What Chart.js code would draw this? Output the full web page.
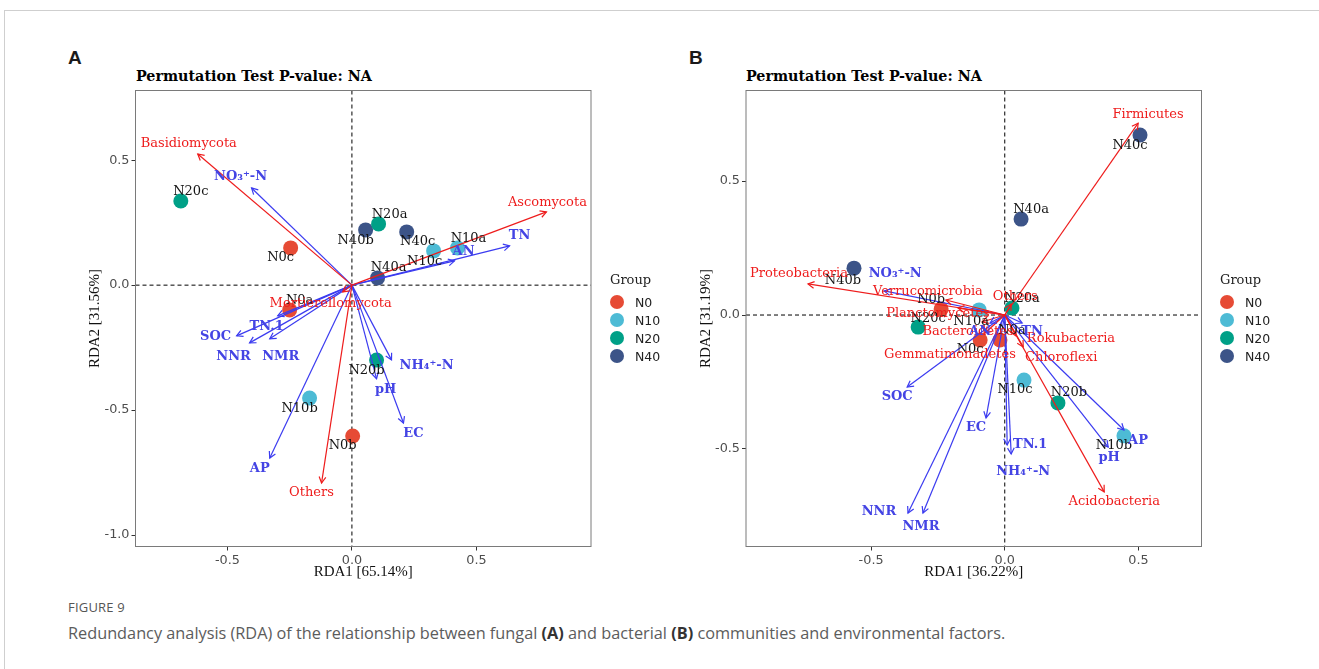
<!DOCTYPE html>
<html>
<head>
<meta charset="utf-8">
<script src="https://cdn.jsdelivr.net/npm/chart.js@4.4.1/dist/chart.umd.min.js"></script>
<style>
  html, body { margin: 0; padding: 0; background: #fff; }
  #page { position: relative; width: 1319px; height: 669px; overflow: hidden; }
  .frame { position: absolute; left: 4px; top: 10px; right: -2px; bottom: -2px;
           border-top: 1px solid #cfcfcf; border-left: 1px solid #cfcfcf; }
  .abs { position: absolute; white-space: nowrap; transform: translateY(-50%); }
  .letter { font-family: 'Liberation Sans', Arial, sans-serif; font-weight: bold; font-size: 19px; color: #1a1a1a; }
  .ptitle { font-family: 'DejaVu Serif', serif; font-weight: bold; font-size: 14.3px; color: #000; }
  .lgtitle { font-family: 'DejaVu Serif', serif; font-size: 13px; color: #222; }
  .lgitem { font-family: 'DejaVu Sans', sans-serif; font-size: 12.5px; color: #222; }
  .dot { position: absolute; width: 14px; height: 14px; border-radius: 50%; transform: translate(-50%, -50%); }
  .fig { font-family: 'Open Sans', sans-serif; font-size: 13px; color: #555; letter-spacing: 0.2px; }
  .cap { font-family: 'Open Sans', sans-serif; font-size: 16.3px; color: #5c5c5c; }
  .cap b { color: #333; }
  canvas { position: absolute; top: 0; }
</style>
</head>
<body>
<div id="page">
  <div class="frame"></div>
  <div class="abs letter" style="left:68px; top:58px;">A</div>
  <div class="abs letter" style="left:689px; top:58px;">B</div>
  <div class="abs ptitle" style="left:136px; top:76px;">Permutation Test P-value: NA</div>
  <div class="abs ptitle" style="left:746px; top:76px;">Permutation Test P-value: NA</div>
  <canvas id="chartA" width="660" height="590" style="left:0px;"></canvas>
  <canvas id="chartB" width="659" height="590" style="left:660px;"></canvas>
  <div id="legendA"></div>
  <div id="legendB"></div>
  <div class="abs fig" style="left:68px; top:607px;">FIGURE 9</div>
  <div class="abs cap" style="left:68px; top:633px;">Redundancy analysis (RDA) of the relationship between fungal <b>(A)</b> and bacterial <b>(B)</b> communities and environmental factors.</div>
</div>
<script>
// ── groups ─────────────────────────────────────────────
const groups = ['N0', 'N10', 'N20', 'N40'];
const groupColors = ['#E64B35', '#4DBBD5', '#00A087', '#3C5488'];

// ── Panel A: fungal community ──────────────────────────
const samplesA = ['N0a', 'N0b', 'N0c', 'N10a', 'N10b', 'N10c', 'N20a', 'N20b', 'N20c', 'N40a', 'N40b', 'N40c'];
const rda1A = [-0.250, 0.003, -0.246, 0.424, -0.170, 0.328, 0.107, 0.099, -0.687, 0.103, 0.055, 0.220];
const rda2A = [-0.099, -0.604, 0.149, 0.149, -0.452, 0.137, 0.245, -0.300, 0.337, 0.029, 0.221, 0.213];

const taxaA = ['Ascomycota', 'Basidiomycota', 'Mortierellomycota', 'Others'];
const taxaA1 = [0.781, -0.619, -0.037, -0.122];
const taxaA2 = [0.293, 0.525, -0.027, -0.792];

const envA = ['NO₃⁺-N', 'TN', 'AN', 'SOC', 'TN.1', 'NNR', 'NMR', 'AP', 'NH₄⁺-N', 'pH', 'EC'];
const envA1 = [-0.403, 0.633, 0.412, -0.463, -0.298, -0.411, -0.330, -0.330, 0.159, 0.099, 0.207];
const envA2 = [0.389, 0.157, 0.097, -0.203, -0.123, -0.231, -0.215, -0.692, -0.299, -0.375, -0.552];

// ── Panel B: bacterial community ───────────────────────
const samplesB = ['N0a', 'N0b', 'N0c', 'N10a', 'N10b', 'N10c', 'N20a', 'N20b', 'N20c', 'N40a', 'N40b', 'N40c'];
const rda1B = [-0.018, -0.238, -0.092, -0.096, 0.446, 0.072, 0.027, 0.199, -0.324, 0.061, -0.564, 0.506];
const rda2B = [-0.093, 0.022, -0.093, 0.019, -0.451, -0.243, 0.026, -0.328, -0.045, 0.358, 0.175, 0.672];

const taxaB = ['Firmicutes', 'Proteobacteria', 'Verrucomicrobia', 'Planctomycetes', 'Bacteroidetes',
               'Gemmatimonadetes', 'Others', 'Rokubacteria', 'Chloroflexi', 'Acidobacteria'];
const taxaB1 = [0.499, -0.736, -0.220, -0.175, -0.085, -0.074, 0.024, 0.042, 0.069, 0.372];
const taxaB2 = [0.716, 0.116, 0.056, 0.026, -0.026, -0.067, 0.041, -0.078, -0.119, -0.660];

const envB = ['NO₃⁺-N', 'SOC', 'EC', 'NNR', 'NMR', 'TN.1', 'NH₄⁺-N', 'AP', 'pH', 'TN', 'AN'];
const envB1 = [-0.451, -0.365, -0.070, -0.362, -0.306, 0.009, 0.024, 0.446, 0.387, 0.065, -0.055];
const envB2 = [0.090, -0.269, -0.384, -0.739, -0.739, -0.485, -0.519, -0.429, -0.493, -0.030, -0.030];

const axisTicks = [-1.0, -0.5, 0.0, 0.5];

// label nudges (px) – where the text sits relative to its point / arrow tip
const sampleNudgeA = [[10, -9], [-10, 10], [-10, 10], [11, -9], [-10, 11], [-9, 11], [11, -9], [-10, 11], [10, -9], [11, -10], [-10, 11], [11, 10]];
const taxaNudgeA = [[1, -9], [-9, -10], [-12, 12], [-10, 10]];
const envNudgeA = [[-11, -11], [10, -10], [9, -9], [-21, 1], [-11, 11], [-16, 14], [11, 18], [-10, 11], [35, 6], [9, 11], [10, 11]];
const sampleNudgeB = [[12, -9], [-10, -9], [-10, 10], [-8, 12], [-10, 10], [-9, 10], [10, -9], [11, -10], [10, -8], [10, -9], [-11, 12], [-10, 11]];
const taxaNudgeB = [[10, -9], [-9, -10], [-18, -8], [-20, 6], [-14, 10], [-35, 22], [4, -7], [55, 3], [38, 11], [10, 10]];
const envNudgeB = [[11, -17], [-10, 10], [-10, 10], [-29, -1], [-2, 14], [23, 0], [12, 18], [14, 11], [1, 11], [10, 9], [-10, 9]];

const RED = '#ee1c1c';
const BLUE = '#3b3bf0';
const BLUE_TXT = '#4444e4';

// ── plugin: zero lines, box, arrowheads, labels, axis titles ──
const rdaDecor = {
  id: 'rdaDecor',
  beforeDatasetsDraw(chart) {
    const { ctx, chartArea: a, scales: { x, y } } = chart;
    const x0 = x.getPixelForValue(0), y0 = y.getPixelForValue(0);
    ctx.save();
    ctx.strokeStyle = '#000';
    ctx.lineWidth = 1;
    ctx.setLineDash([4, 3]);
    ctx.beginPath();
    ctx.moveTo(x0, a.top); ctx.lineTo(x0, a.bottom);
    ctx.moveTo(a.left, y0); ctx.lineTo(a.right, y0);
    ctx.stroke();
    ctx.restore();
  },
  afterDatasetsDraw(chart, args, o) {
    const { ctx, chartArea: a, scales: { x, y } } = chart;
    ctx.save();
    // arrowheads
    chart.data.datasets.forEach((ds, i) => {
      if (!ds.arrow) return;
      const pts = chart.getDatasetMeta(i).data;
      const p0 = pts[0], p1 = pts[1];
      const ang = Math.atan2(p1.y - p0.y, p1.x - p0.x);
      const len = 7, spread = 0.5;
      ctx.strokeStyle = ds.borderColor;
      ctx.lineWidth = 1.2;
      ctx.beginPath();
      ctx.moveTo(p1.x - len * Math.cos(ang - spread), p1.y - len * Math.sin(ang - spread));
      ctx.lineTo(p1.x, p1.y);
      ctx.lineTo(p1.x - len * Math.cos(ang + spread), p1.y - len * Math.sin(ang + spread));
      ctx.stroke();
    });
    ctx.textAlign = 'center';
    ctx.textBaseline = 'middle';
    const put = (names, xs, ys, nudge, font, color) => {
      ctx.font = font;
      ctx.fillStyle = color;
      names.forEach((n, i) => {
        ctx.fillText(n, x.getPixelForValue(xs[i]) + nudge[i][0], y.getPixelForValue(ys[i]) + nudge[i][1]);
      });
    };
    put(o.samples, o.s1, o.s2, o.sNudge, '13px "DejaVu Serif"', '#151515');
    put(o.taxa, o.t1, o.t2, o.tNudge, '13px "DejaVu Serif"', RED);
    put(o.env, o.e1, o.e2, o.eNudge, 'bold 13px "DejaVu Serif"', BLUE_TXT);
    // panel box
    ctx.strokeStyle = '#7a7a7a';
    ctx.lineWidth = 1;
    ctx.strokeRect(a.left, a.top, a.right - a.left, a.bottom - a.top);
    // axis titles
    ctx.fillStyle = '#111';
    ctx.font = '15px "Liberation Serif"';
    ctx.fillText(o.xTitle, (a.left + a.right) / 2, a.bottom + 26);
    ctx.translate(a.left - 40, (a.top + a.bottom) / 2);
    ctx.rotate(-Math.PI / 2);
    ctx.fillText(o.yTitle, 0, 0);
    ctx.restore();
  }
};

function buildChart(id, area, H, W, xr, yr, p) {
  const datasets = [];
  groups.forEach((g, gi) => {
    const pts = [];
    p.samples.forEach((s, i) => {
      if (s.replace(/[abc]$/, '') === g) pts.push({ x: p.s1[i], y: p.s2[i] });
    });
    datasets.push({ label: g, data: pts, backgroundColor: groupColors[gi], borderWidth: 0,
                    pointRadius: 7.5, pointHoverRadius: 7.5, order: 2 });
  });
  const addArrows = (xs, ys, color) => xs.forEach((v, i) => {
    datasets.push({ data: [{ x: 0, y: 0 }, { x: v, y: ys[i] }], showLine: true, arrow: true,
                    borderColor: color, borderWidth: 1.2, pointRadius: 0, order: 1 });
  });
  addArrows(p.t1, p.t2, RED);
  addArrows(p.e1, p.e2, BLUE);

  const axis = (range, fit) => ({
    type: 'linear', min: range[0], max: range[1],
    afterBuildTicks: s => { s.ticks = axisTicks.filter(v => v >= range[0] && v <= range[1]).map(v => ({ value: v })); },
    afterFit: fit,
    grid: { drawOnChartArea: false, drawTicks: true, tickLength: 4, color: '#333' },
    border: { display: false },
    ticks: { color: '#4d4d4d', font: { family: 'DejaVu Sans', size: 12.8 }, padding: 2,
             autoSkip: false, maxRotation: 0, callback: v => v.toFixed(1) },
  });

  return new Chart(document.getElementById(id), {
    type: 'scatter',
    data: { datasets },
    options: {
      responsive: false,
      animation: false,
      devicePixelRatio: 1,
      layout: { padding: { left: 0, top: area.top, right: W - area.right, bottom: 0 } },
      scales: {
        x: axis(xr, s => { s.height = H - area.bottom; }),
        y: axis(yr, s => { s.width = area.left; }),
      },
      plugins: { legend: { display: false }, tooltip: { enabled: false }, rdaDecor: p },
    },
    plugins: [rdaDecor],
  });
}

buildChart('chartA', { left: 135.5, right: 591, top: 90.5, bottom: 546.5 }, 590, 660,
  [-0.869, 0.960], [-1.046, 0.779], {
    samples: samplesA, s1: rda1A, s2: rda2A, sNudge: sampleNudgeA,
    taxa: taxaA, t1: taxaA1, t2: taxaA2, tNudge: taxaNudgeA,
    env: envA, e1: envA1, e2: envA2, eNudge: envNudgeA,
    xTitle: 'RDA1 [65.14%]', yTitle: 'RDA2 [31.56%]',
  });

buildChart('chartB', { left: 86, right: 541.5, top: 90.5, bottom: 546.5 }, 590, 659,
  [-0.968, 0.736], [-0.864, 0.838], {
    samples: samplesB, s1: rda1B, s2: rda2B, sNudge: sampleNudgeB,
    taxa: taxaB, t1: taxaB1, t2: taxaB2, tNudge: taxaNudgeB,
    env: envB, e1: envB1, e2: envB2, eNudge: envNudgeB,
    xTitle: 'RDA1 [36.22%]', yTitle: 'RDA2 [31.19%]',
  });

// ── legends ────────────────────────────────────────────
function legend(id, left) {
  const box = document.getElementById(id);
  let html = `<div class="abs lgtitle" style="left:${left}px; top:279px;">Group</div>`;
  groups.forEach((g, i) => {
    const cy = 301.5 + i * 18;
    html += `<div class="dot" style="left:${left + 7}px; top:${cy}px; background:${groupColors[i]};"></div>`;
    html += `<div class="abs lgitem" style="left:${left + 25}px; top:${cy}px;">${g}</div>`;
  });
  box.innerHTML = html;
}
legend('legendA', 610);
legend('legendB', 1220);
</script>
</body>
</html>
